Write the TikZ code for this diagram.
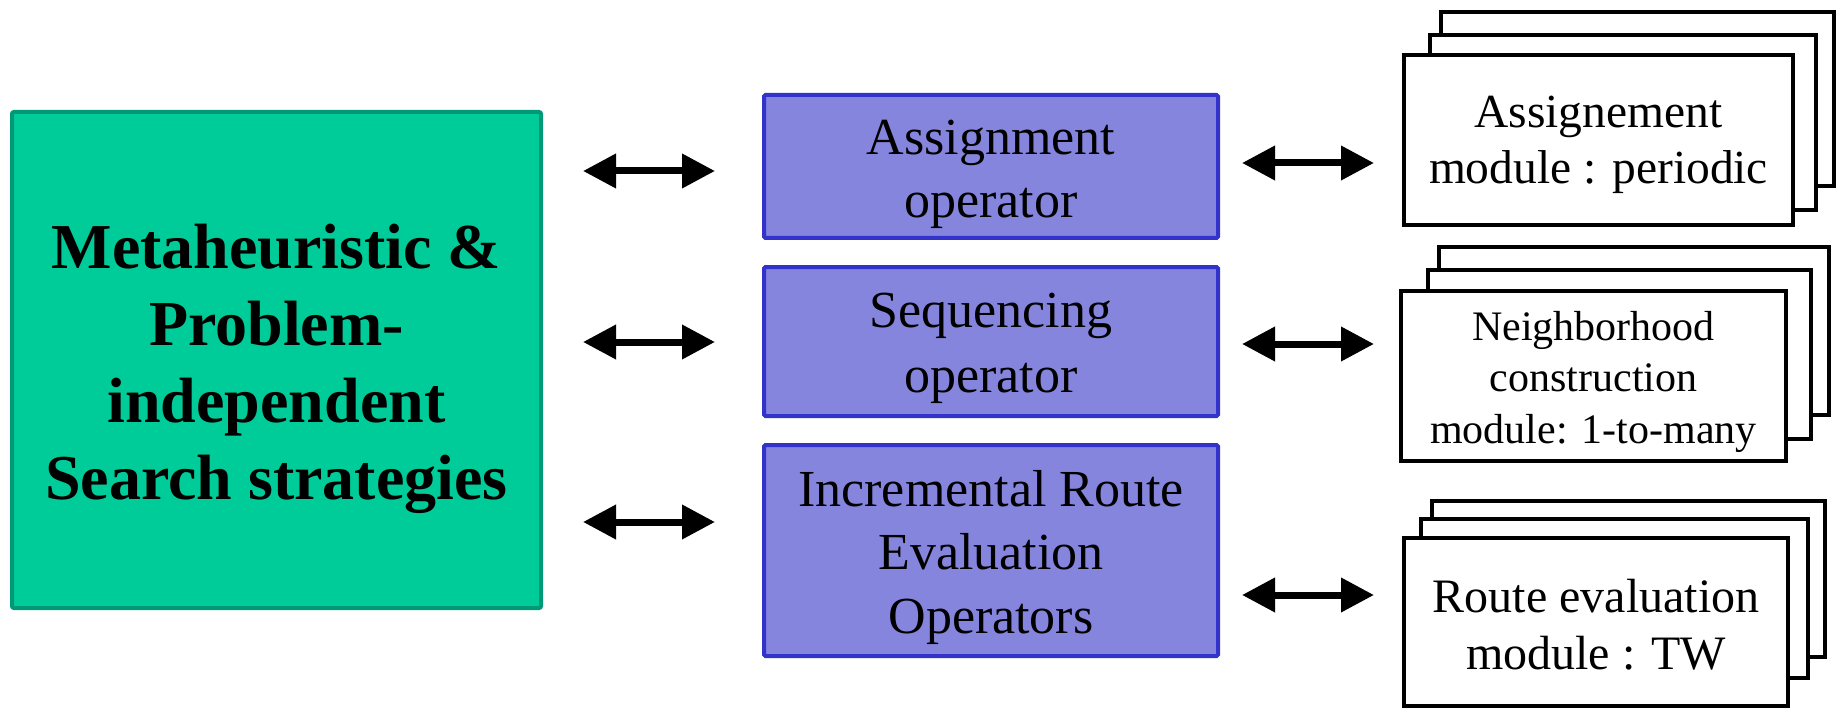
\documentclass[tikz,border=0pt]{standalone}
\usepackage{fontspec}
\setmainfont{Liberation Serif}
\usetikzlibrary{arrows.meta}
\definecolor{gfill}{HTML}{00CC99}
\definecolor{gline}{HTML}{009977}
\definecolor{bfill}{HTML}{8585DE}
\definecolor{bline}{HTML}{3333CC}
\begin{document}
\begin{tikzpicture}[x=1pt,y=-1pt,
  greenbox/.style={draw=gline, fill=gfill, line width=4pt, rounded corners=2pt, inner sep=0pt},
  bluebox/.style={draw=bline, fill=bfill, line width=4pt, rounded corners=1.5pt, inner sep=0pt, minimum width=454pt},
  modbox/.style={draw=black, fill=white, line width=4pt, inner sep=0pt},
  lbl/.style={align=center, inner sep=0pt},
  dblarrow/.style={line width=7pt, {Triangle[length=33pt,width=33pt]}-{Triangle[length=33pt,width=33pt]}}
]
\fill[white] (0,0) rectangle (1843,711);
\useasboundingbox (0,0) rectangle (1843,711);

% left green box
\node[greenbox, minimum width=529pt, minimum height=496pt] (g) at (276.5,360) {};
\node[lbl, font=\fontsize{64}{77}\selectfont\bfseries] (gt) at (276.5,368.6)
  {Metaheuristic \&\\Problem-\\independent\\Search strategies};

% blue operator boxes
\node[bluebox, minimum height=143pt] (b1) at (991,166.5) {};
\node[lbl, font=\fontsize{52}{63}\selectfont] (b1t) at (991,174.4) {Assignment\\operator};
\node[bluebox, minimum height=149pt] (b2) at (991,341.5) {};
\node[lbl, font=\fontsize{52}{65}\selectfont] (b2t) at (991,348.4) {Sequencing\\operator};
\node[bluebox, minimum height=211pt] (b3) at (991,550.5) {};
\node[lbl, font=\fontsize{52}{63.5}\selectfont] (b3t) at (991,557.4) {Incremental Route\\Evaluation\\Operators};

% stack 1
\node[modbox, minimum width=393pt, minimum height=174pt] (s1c) at (1637.5,99) {};
\node[modbox, minimum width=386pt, minimum height=175pt] (s1b) at (1623,122.5) {};
\node[modbox, minimum width=389pt, minimum height=170pt] (s1a) at (1598.5,140) {};
\node[lbl, font=\fontsize{47.5}{56}\selectfont] (s1t) at (1598.5,145) {Assignement\\module : periodic};

% stack 2
\node[modbox, minimum width=390pt, minimum height=168pt] (s2c) at (1634,331) {};
\node[modbox, minimum width=383pt, minimum height=169pt] (s2b) at (1619.5,354.5) {};
\node[modbox, minimum width=385pt, minimum height=170pt] (s2a) at (1593.5,376) {};
\node[lbl, font=\fontsize{42}{51.5}\selectfont] (s2t) at (1593.5,381.7) {Neighborhood\\construction\\module: 1-to-many};

% stack 3
\node[modbox, minimum width=393pt, minimum height=156pt] (s3c) at (1628.5,579) {};
\node[modbox, minimum width=387pt, minimum height=159pt] (s3b) at (1614.5,598.5) {};
\node[modbox, minimum width=384pt, minimum height=168pt] (s3a) at (1596,622) {};
\node[lbl, font=\fontsize{48}{57}\selectfont] (s3t) at (1596,625.1) {Route evaluation\\module : TW};

% arrow end points
\coordinate (l1a) at (583,171);  \coordinate (l1b) at (715,171);
\coordinate (l2a) at (583,342);  \coordinate (l2b) at (715,342);
\coordinate (l3a) at (583,522);  \coordinate (l3b) at (715,522);
\coordinate (r1a) at (1242,163); \coordinate (r1b) at (1374,163);
\coordinate (r2a) at (1242,344); \coordinate (r2b) at (1374,344);
\coordinate (r3a) at (1242,595); \coordinate (r3b) at (1374,595);

\draw[dblarrow] (l1a) -- (l1b);
\draw[dblarrow] (l2a) -- (l2b);
\draw[dblarrow] (l3a) -- (l3b);
\draw[dblarrow] (r1a) -- (r1b);
\draw[dblarrow] (r2a) -- (r2b);
\draw[dblarrow] (r3a) -- (r3b);
\end{tikzpicture}
\end{document}
